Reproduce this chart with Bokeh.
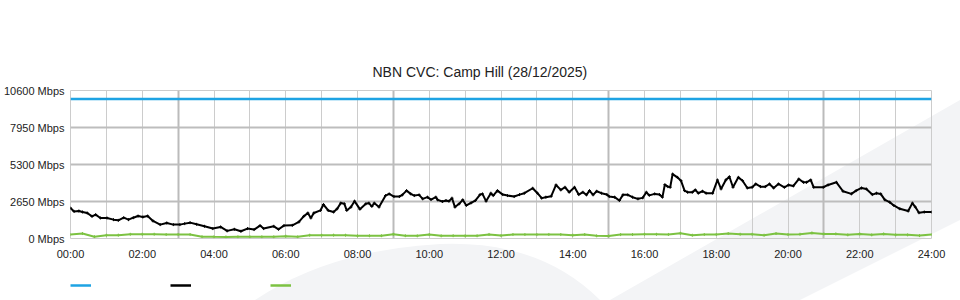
from bokeh.plotting import figure
from bokeh.layouts import column
from bokeh.models import (Range1d, FixedTicker, PrintfTickFormatter, Grid, Legend,
                          LegendItem, ColumnDataSource)
from bokeh.embed import file_html
from bokeh.resources import INLINE

TITLE = "NBN CVC: Camp Hill (28/12/2025)"
X_TICKS = [0, 2, 4, 6, 8, 10, 12, 14, 16, 18, 20, 22, 24]
X_TICK_LABELS = ["00:00", "02:00", "04:00", "06:00", "08:00", "10:00", "12:00",
                 "14:00", "16:00", "18:00", "20:00", "22:00", "24:00"]
Y_TICKS = [0, 2650, 5300, 7950, 10600]

# Capacity (blue)
capacity_times = ["00:00", "24:00"]
capacity_mbps = [10000, 10000]

# Download traffic (black)
traffic_times = [
    "00:00", "00:06", "00:14", "00:20", "00:28", "00:36", "00:42", "00:50",
    "01:01", "01:12", "01:20", "01:29", "01:37", "01:45", "01:53",
    "02:01", "02:09", "02:18", "02:30", "02:41", "02:52",
    "03:03", "03:11", "03:20", "03:31", "03:44", "03:58",
    "04:11", "04:22", "04:34", "04:45", "04:56",
    "05:07", "05:17", "05:23", "05:40", "05:48", "05:57",
    "06:11", "06:22", "06:30", "06:37", "06:42", "06:47", "06:58",
    "07:03", "07:11", "07:20", "07:26", "07:32", "07:38", "07:42", "07:49", "07:55",
    "08:04", "08:14", "08:19", "08:24", "08:28", "08:36", "08:47", "08:53",
    "09:01", "09:10", "09:15", "09:22", "09:29", "09:35", "09:43", "09:49", "09:57",
    "10:03", "10:11", "10:14", "10:22", "10:28", "10:33", "10:38", "10:43", "10:50", "10:56",
    "11:02", "11:10", "11:17", "11:25", "11:29", "11:35", "11:43", "11:47", "11:54",
    "12:03", "12:11", "12:22", "12:31", "12:39", "12:53",
    "13:01", "13:08", "13:15", "13:24", "13:32", "13:40", "13:47", "13:54",
    "14:03", "14:10", "14:17", "14:23", "14:28", "14:34", "14:40", "14:48", "14:57",
    "15:01", "15:10", "15:18", "15:24", "15:32", "15:40", "15:49", "15:57",
    "16:03", "16:08", "16:17", "16:25", "16:30", "16:34", "16:39", "16:43", "16:47", "16:55",
    "17:01", "17:07", "17:12", "17:20", "17:25", "17:30", "17:37", "17:43", "17:54",
    "18:02", "18:08", "18:16", "18:22", "18:28", "18:37", "18:44", "18:52",
    "19:00", "19:06", "19:14", "19:22", "19:29", "19:36", "19:44", "19:54",
    "20:01", "20:09", "20:18", "20:26", "20:31", "20:38", "20:43", "20:59",
    "21:07", "21:21", "21:32", "21:46", "21:54",
    "22:03", "22:11", "22:21", "22:28", "22:35", "22:42", "22:50", "22:57",
    "23:07", "23:21", "23:28", "23:33", "23:39", "23:48",
    "24:00",
]
traffic_mbps = [
    2180, 1940, 1970, 1900, 1825, 1585, 1705, 1470,
    1470, 1350, 1300, 1490, 1350, 1490, 1610,
    1540, 1610, 1255, 995, 1115, 995,
    995, 1065, 1135, 1015, 875, 710,
    830, 545, 660, 520, 710,
    640, 925, 710, 875, 660, 925,
    945, 1185, 1585, 1825, 1470, 1825, 2010,
    2435, 2010, 1895, 2130, 2535, 2485, 2010, 2250, 2675,
    2100, 2485, 2535, 2295, 2535, 2250, 3075, 3195,
    3005, 3005, 3125, 3430, 3195, 3075, 3125, 2840, 2960,
    2790, 2960, 2770, 2650, 2720, 2675, 2890, 2250, 2485, 2770,
    2365, 2555, 2720, 3145, 3195, 2675, 3245, 3075, 3430,
    3145, 3075, 3005, 3145, 3245, 3600,
    3245, 2890, 2960, 3030, 3835, 3480, 3670, 3315,
    3670, 3145, 3315, 3125, 3430, 3125, 3385, 3245, 3145,
    3005, 2960, 2720, 3125, 3125, 2960, 2840, 2910,
    3315, 3090, 3195, 3145, 2960, 3855, 3715, 3670, 4615, 4380,
    4140, 3430, 3315, 3315, 3480, 3245, 3385, 3245, 3245,
    4190, 3550, 4190, 4425, 3670, 4380, 4140, 3620,
    3670, 3905, 3715, 3715, 3905, 3620, 3905, 3670,
    3835, 3765, 4260, 4025, 4025, 4190, 3670, 3670,
    3835, 4025, 3385, 3195, 3430,
    3620, 3550, 3145, 3245, 3195, 2770, 2605, 2365,
    2130, 1965, 2535, 2250, 1845, 1895,
    1895,
]

# Upload traffic (green)
upload_times = [
    "00:00", "00:20", "00:40", "01:00", "01:20", "01:40", "02:00", "02:20", "02:40",
    "03:00", "03:20", "03:40", "04:00", "04:20", "04:40", "05:00", "05:20", "05:40",
    "06:00", "06:20", "06:40", "07:00", "07:20", "07:40", "08:00", "08:20", "08:40",
    "09:00", "09:20", "09:40", "10:00", "10:20", "10:40", "11:00", "11:20", "11:40",
    "12:00", "12:20", "12:40", "13:00", "13:20", "13:40", "14:00", "14:20", "14:40",
    "15:00", "15:20", "15:40", "16:00", "16:20", "16:40", "17:00", "17:20", "17:40",
    "18:00", "18:20", "18:40", "19:00", "19:20", "19:40", "20:00", "20:20", "20:40",
    "21:00", "21:20", "21:40", "22:00", "22:20", "22:40", "23:00", "23:20", "23:40",
    "24:00",
]
upload_mbps = [
    285, 355, 130, 235, 240, 300, 305, 305, 285,
    290, 285, 130, 120, 115, 120, 120, 120, 120,
    165, 120, 235, 235, 240, 235, 190, 195, 200,
    305, 200, 190, 280, 190, 200, 190, 195, 290,
    210, 285, 285, 280, 290, 285, 240, 285, 190,
    185, 280, 285, 305, 300, 290, 375, 235, 285,
    290, 355, 305, 300, 235, 355, 285, 305, 400,
    330, 330, 260, 330, 260, 330, 260, 260, 210,
    285,
]

BLUE = "#1ea3e3"
BLACK = "#000000"
GREEN = "#7cc242"
FONT = "Liberation Sans"


def to_hours(t):
    h, m = t.split(":")
    return int(h) + int(m) / 60.0


cap_src = ColumnDataSource(dict(x=[to_hours(t) for t in capacity_times], y=capacity_mbps))
dl_src = ColumnDataSource(dict(x=[to_hours(t) for t in traffic_times], y=traffic_mbps))
ul_src = ColumnDataSource(dict(x=[to_hours(t) for t in upload_times], y=upload_mbps))

# faint decorative watermark behind the (transparent) canvases
WATERMARK = ("data:image/svg+xml;utf8,"
             "<svg xmlns='http://www.w3.org/2000/svg' width='960' height='300'>"
             "<path d='M610 300 L960 100 L960 220 L800 300 Z' fill='%23f3f4f6'/>"
             "<path d='M255 300 Q330 250 440 244 Q540 240 600 300 Z' fill='%23f3f4f6'/>"
             "</svg>")

p = figure(width=960, height=262, output_backend="svg", toolbar_location=None,
           x_range=Range1d(0, 24), y_range=Range1d(0, 10600),
           min_border_left=70, min_border_right=29, min_border_top=90,
           min_border_bottom=22)
p.background_fill_color = None
p.border_fill_color = None
p.outline_line_color = "#cccccc"
p.outline_line_width = 1

p.title.text = TITLE
p.title.align = "left"
p.title.offset = 302
p.title.standoff = 22
p.title.text_font = FONT
p.title.text_font_size = "14px"
p.title.text_font_style = "normal"
p.title.text_color = "#222222"

p.xgrid.visible = False
p.ygrid.visible = False
p.add_layout(Grid(dimension=0, ticker=FixedTicker(ticks=list(range(25))),
                  grid_line_color="#cccccc", grid_line_width=1))
p.add_layout(Grid(dimension=0, ticker=FixedTicker(ticks=[3, 9, 15, 21]),
                  grid_line_color="#bbbbbb", grid_line_width=2))
p.add_layout(Grid(dimension=1, ticker=FixedTicker(ticks=Y_TICKS[1:-1]),
                  grid_line_color="#bdbdbd", grid_line_width=2))

for ax in (p.xaxis[0], p.yaxis[0]):
    ax.axis_line_color = None
    ax.major_tick_line_color = None
    ax.minor_tick_line_color = None
    ax.major_tick_out = 0
    ax.major_tick_in = 0
    ax.major_label_text_font = FONT
    ax.major_label_text_font_size = "11px"
    ax.major_label_text_color = "#222222"

p.xaxis.ticker = FixedTicker(ticks=X_TICKS)
p.xaxis.major_label_overrides = dict(zip(X_TICKS, X_TICK_LABELS))
p.xaxis.major_label_standoff = 9
p.yaxis.ticker = FixedTicker(ticks=Y_TICKS)
p.yaxis.formatter = PrintfTickFormatter(format="%d Mbps")
p.yaxis.major_label_standoff = 6

p.line("x", "y", source=cap_src, line_color=BLUE, line_width=2.5)
p.line("x", "y", source=ul_src, line_color=GREEN, line_width=2)
p.scatter("x", "y", source=ul_src, marker="cross", size=3, line_color=GREEN, line_width=1)
p.line("x", "y", source=dl_src, line_color=BLACK, line_width=2)
p.scatter("x", "y", source=dl_src, marker="cross", size=3, line_color=BLACK, line_width=1)

# legend strip below the chart (keys only, no labels, as in the original)
leg_fig = figure(width=960, height=38, output_backend="svg", toolbar_location=None,
                 x_axis_type=None, y_axis_type=None,
                 x_range=Range1d(0, 24), y_range=Range1d(-20000, -19000),
                 min_border=0, min_border_left=0, min_border_right=0,
                 min_border_top=0, min_border_bottom=0)
leg_fig.background_fill_color = None
leg_fig.border_fill_color = None
leg_fig.outline_line_color = None
k_cap = leg_fig.line("x", "y", source=cap_src, line_color=BLUE, line_width=2.5)
k_dl = leg_fig.line("x", "y", source=dl_src, line_color=BLACK, line_width=2.5)
k_ul = leg_fig.line("x", "y", source=ul_src, line_color=GREEN, line_width=2.5)

legend = Legend(items=[LegendItem(label=" ", renderers=[k_cap]),
                       LegendItem(label=" ", renderers=[k_dl]),
                       LegendItem(label=" ", renderers=[k_ul])],
                orientation="horizontal", location=(0, 12),
                glyph_width=21, glyph_height=6, label_width=79, label_height=6,
                label_standoff=0, spacing=0, padding=0, margin=0,
                border_line_alpha=0, background_fill_alpha=0,
                label_text_font_size="1px")
leg_fig.add_layout(legend, "center")

layout = column(p, leg_fig, spacing=0)
layout.styles = {"background-image": 'url("%s")' % WATERMARK,
                 "background-repeat": "no-repeat",
                 "background-color": "white"}

open("out.html", "w").write(file_html(layout, INLINE))
